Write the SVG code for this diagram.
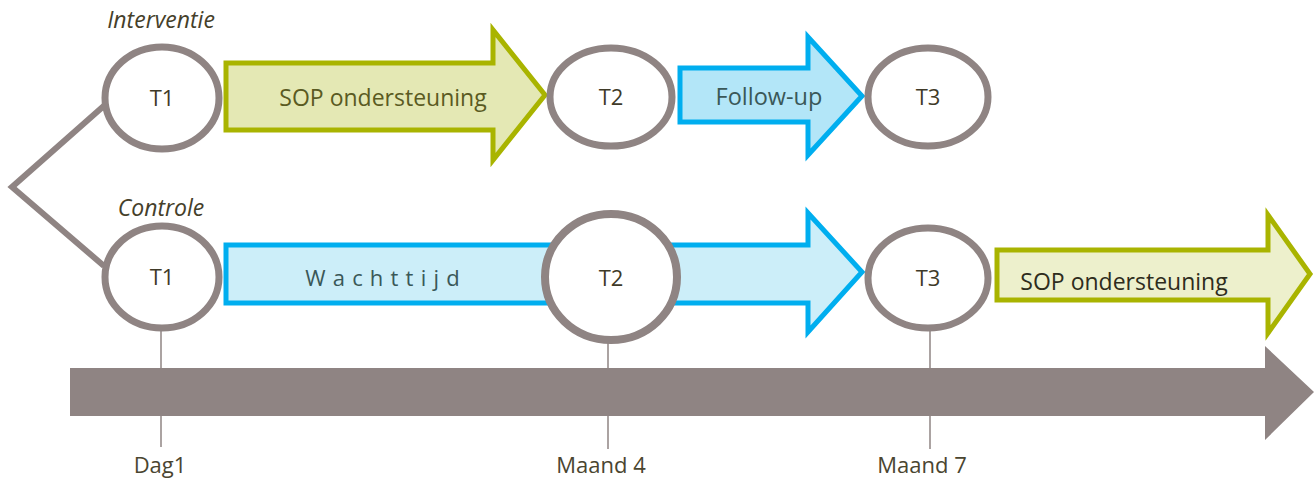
<svg xmlns="http://www.w3.org/2000/svg" width="1314" height="480" viewBox="0 0 1314 480">
  <defs>
    <filter id="soft" x="-10%" y="-10%" width="120%" height="120%">
      <feGaussianBlur stdDeviation="0.5"/>
    </filter>
  </defs>
  <style>
    .node { fill: #ffffff; stroke: #8F8483; stroke-width: 7; }
    .lbl { font-family: "Open Sans", "Liberation Sans", sans-serif; font-size: 22px; fill: #3f3a28; text-anchor: middle; }
    .grp { font-family: "Open Sans", "Liberation Sans", sans-serif; font-style: italic; font-size: 23px; fill: #45402a; text-anchor: middle; }
    .tick { stroke: #8F8483; stroke-width: 1.5; }
    .when { font-family: "Open Sans", "Liberation Sans", sans-serif; font-size: 22px; fill: #4a4530; text-anchor: middle; }
    .olive { fill: #E4E8B4; stroke: #A9B400; stroke-width: 5; }
    .olive2 { fill: #EDF0CC; stroke: #A9B400; stroke-width: 5; }
    .blue { fill: #B3E6F8; stroke: #00AEEF; stroke-width: 5; }
    .blue2 { fill: #CCEEF9; stroke: #00AEEF; stroke-width: 5; }
    .branch { fill: none; stroke: #8F8483; stroke-width: 6; stroke-linejoin: miter; }
  </style>

  <!-- timeline -->
  <g id="timeline">
    <polygon points="70,368 1265,368 1265,346 1314,392 1265,440 1265,416 70,416" fill="#8F8483"/>
    <line class="tick" x1="161" y1="330" x2="161" y2="447"/>
    <line class="tick" x1="608" y1="340" x2="608" y2="449"/>
    <line class="tick" x1="930" y1="330" x2="930" y2="449"/>
    <text class="when" x="160" y="473">Dag1</text>
    <text class="when" x="601" y="473">Maand 4</text>
    <text class="when" x="922" y="473">Maand 7</text>
  </g>

  <!-- connectors -->
  <g id="connectors">
    <polyline class="branch" points="106,104 12,187 104,266"/>
    <g id="arrow-sop-top">
      <polygon class="olive" points="226,63 493,63 493,30 545,95 493,160 493,130 226,130"/>
      <text class="lbl" x="383" y="106" style="fill:#5a5a22; font-size:23px">SOP ondersteuning</text>
    </g>
    <g id="arrow-followup">
      <polygon class="blue" points="680,68 808,68 808,37 862,96 808,155 808,122 680,122"/>
      <text class="lbl" x="769" y="105" style="fill:#3a5858; font-size:23.5px">Follow-up</text>
    </g>
    <g id="arrow-wachttijd">
      <polygon class="blue2" points="226,245 808,245 808,213 862,272 808,332 808,303 226,303"/>
      <text class="lbl" x="386" y="286" style="fill:#3a5858; letter-spacing:7.2px">Wachttijd</text>
    </g>
    <g id="arrow-sop-bottom">
      <polygon class="olive2" points="997,250 1268,250 1268,215 1310,274 1268,333 1268,300 997,300"/>
      <text class="lbl" x="1124" y="290" style="fill:#2e2c1c; font-size:23px">SOP ondersteuning</text>
    </g>
  </g>

  <!-- labels of the two arms -->
  <text class="grp" x="161" y="28">Interventie</text>
  <text class="grp" x="161" y="216">Controle</text>

  <!-- intervention arm -->
  <g id="int-t1">
    <ellipse class="node" cx="162" cy="98" rx="57" ry="51"/>
    <text class="lbl" x="162" y="106">T1</text>
  </g>
  <g id="int-t2">
    <ellipse class="node" cx="611" cy="97" rx="61" ry="49"/>
    <text class="lbl" x="611" y="105">T2</text>
  </g>
  <g id="int-t3">
    <ellipse class="node" cx="928" cy="97" rx="60" ry="49"/>
    <text class="lbl" x="928" y="105">T3</text>
  </g>

  <!-- control arm -->
  <g id="ctl-t1">
    <ellipse class="node" cx="162" cy="277" rx="57" ry="51"/>
    <text class="lbl" x="162" y="285">T1</text>
  </g>
  <g id="ctl-t2">
    <ellipse class="node" cx="611" cy="277" rx="66" ry="63" style="stroke-width:8" filter="url(#soft)"/>
    <text class="lbl" x="611" y="286">T2</text>
  </g>
  <g id="ctl-t3">
    <ellipse class="node" cx="928" cy="278" rx="60" ry="50"/>
    <text class="lbl" x="928" y="286">T3</text>
  </g>
</svg>
